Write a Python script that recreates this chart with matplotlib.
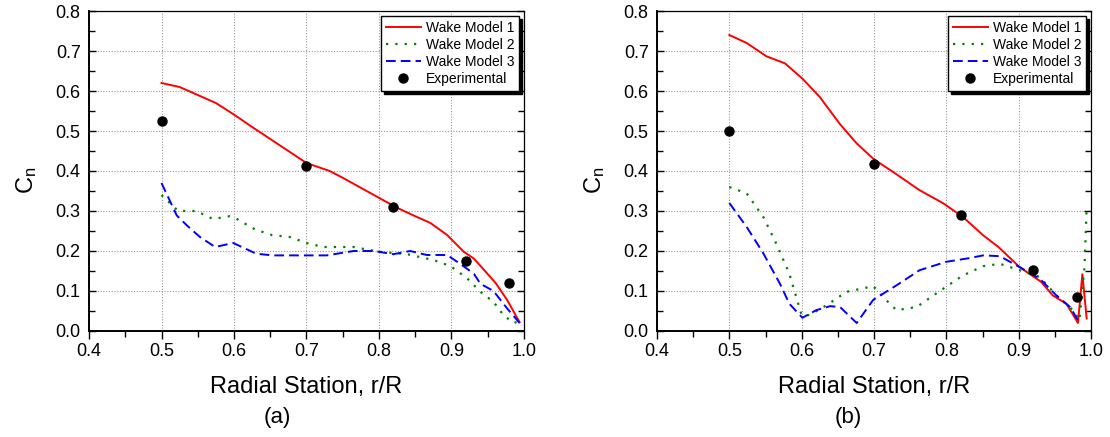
import matplotlib
matplotlib.use('Agg')
import matplotlib.pyplot as plt
from matplotlib.ticker import MultipleLocator

plt.rcParams['font.family'] = ['Liberation Sans', 'DejaVu Sans']
plt.rcParams['mathtext.default'] = 'regular'

# ---- panel (a) ----
a_x1 = [0.5, 0.525, 0.55, 0.575, 0.6, 0.625, 0.65, 0.675, 0.7, 0.732, 0.75, 0.775,
        0.8, 0.825, 0.85, 0.871, 0.894, 0.917, 0.931, 0.961, 0.977, 0.994]
a_y1 = [0.62, 0.61, 0.59, 0.57, 0.541, 0.51, 0.48, 0.45, 0.42, 0.40, 0.383, 0.358,
        0.333, 0.308, 0.287, 0.27, 0.24, 0.198, 0.181, 0.12, 0.077, 0.022]
a_x2 = [0.5, 0.523, 0.548, 0.571, 0.594, 0.603, 0.629, 0.652, 0.677, 0.7, 0.723, 0.765,
        0.8, 0.839, 0.876, 0.899, 0.922, 0.94, 0.958, 0.972, 0.986, 0.994]
a_y2 = [0.34, 0.30, 0.30, 0.28, 0.287, 0.281, 0.254, 0.24, 0.235, 0.22, 0.21, 0.21,
        0.198, 0.192, 0.177, 0.162, 0.131, 0.098, 0.073, 0.039, 0.02, 0.025]
a_x3 = [0.5, 0.521, 0.535, 0.553, 0.574, 0.599, 0.631, 0.654, 0.728, 0.765, 0.793,
        0.82, 0.843, 0.866, 0.894, 0.912, 0.931, 0.94, 0.958, 0.977, 0.994]
a_y3 = [0.37, 0.289, 0.264, 0.235, 0.21, 0.22, 0.193, 0.189, 0.189, 0.20, 0.20,
        0.192, 0.20, 0.19, 0.19, 0.168, 0.143, 0.118, 0.10, 0.056, 0.02]
a_xe = [0.5, 0.7, 0.82, 0.92, 0.98]
a_ye = [0.525, 0.412, 0.309, 0.175, 0.12]

# ---- panel (b) ----
b_x1 = [0.5, 0.524, 0.551, 0.577, 0.601, 0.625, 0.653, 0.676, 0.7, 0.726, 0.763,
        0.795, 0.823, 0.851, 0.872, 0.901, 0.931, 0.947, 0.966, 0.982, 0.988, 0.994]
b_y1 = [0.74, 0.72, 0.687, 0.669, 0.631, 0.585, 0.517, 0.469, 0.429, 0.398, 0.352,
        0.32, 0.285, 0.239, 0.21, 0.16, 0.123, 0.089, 0.068, 0.02, 0.142, 0.031]
b_x2 = [0.5, 0.524, 0.547, 0.565, 0.583, 0.6, 0.611, 0.634, 0.662, 0.699, 0.717,
        0.731, 0.759, 0.791, 0.823, 0.851, 0.874, 0.901, 0.929, 0.952, 0.975, 0.984,
        0.991, 0.994]
b_y2 = [0.36, 0.344, 0.285, 0.218, 0.143, 0.039, 0.04, 0.064, 0.098, 0.112, 0.077,
        0.052, 0.06, 0.10, 0.139, 0.162, 0.168, 0.152, 0.135, 0.089, 0.052, 0.027,
        0.16, 0.31]
b_x3 = [0.5, 0.524, 0.547, 0.57, 0.583, 0.601, 0.62, 0.639, 0.653, 0.676, 0.699,
        0.731, 0.763, 0.8, 0.828, 0.851, 0.874, 0.901, 0.929, 0.952, 0.971, 0.982]
b_y3 = [0.32, 0.26, 0.194, 0.118, 0.068, 0.033, 0.052, 0.062, 0.06, 0.02, 0.078,
        0.114, 0.152, 0.173, 0.181, 0.189, 0.187, 0.16, 0.131, 0.089, 0.06, 0.027]
b_xe = [0.5, 0.7, 0.82, 0.92, 0.98]
b_ye = [0.50, 0.417, 0.291, 0.153, 0.085]

labels = ['Wake Model 1', 'Wake Model 2', 'Wake Model 3', 'Experimental']


def draw_panel(ax, x1, y1, x2, y2, x3, y3, xe, ye):
    ax.plot(x1, y1, color='red', lw=1.4, label=labels[0])
    ax.plot(x2, y2, color='green', lw=1.6, ls=(0, (1, 3.2)), label=labels[1])
    ax.plot(x3, y3, color='blue', lw=1.4, ls=(0, (5, 2.6)), label=labels[2])
    ax.plot(xe, ye, 'o', color='black', ms=6.5, ls='none', label=labels[3])

    ax.set_xlim(0.4, 1.0)
    ax.set_ylim(0.0, 0.8)
    ax.xaxis.set_major_locator(MultipleLocator(0.1))
    ax.xaxis.set_minor_locator(MultipleLocator(0.05))
    ax.yaxis.set_major_locator(MultipleLocator(0.1))
    ax.yaxis.set_minor_locator(MultipleLocator(0.05))
    ax.xaxis.set_major_formatter(lambda v, p: f'{v:.1f}')
    ax.yaxis.set_major_formatter(lambda v, p: f'{v:.1f}')
    ax.grid(True, which='major', color='#999999', ls=(0, (1, 1.5)), lw=0.8)

    ax.tick_params(axis='x', which='both', direction='out', labelsize=13, pad=3)
    ax.tick_params(axis='x', which='major', length=6, width=1)
    ax.tick_params(axis='x', which='minor', length=4, width=1)
    ax.tick_params(axis='y', which='both', direction='in', labelsize=13, pad=6)
    ax.tick_params(axis='y', which='major', length=5, width=1)
    ax.tick_params(axis='y', which='minor', length=4, width=1)
    ax.tick_params(axis='y', which='both', right=True)
    for side in ['left', 'bottom']:
        ax.spines[side].set_linewidth(1.4)
    for side in ['top', 'right']:
        ax.spines[side].set_linewidth(0.9)

    ax.set_xlabel('Radial Station, r/R', fontsize=17, labelpad=11)
    ax.set_ylabel('$C_n$', fontsize=17)
    ax.yaxis.set_label_coords(-0.115, 0.47)

    leg = ax.legend(loc='upper right', fontsize=10, frameon=True, fancybox=False,
                    edgecolor='black', framealpha=1, labelspacing=0.22,
                    handlelength=2.5, handletextpad=0.35, borderpad=0.35,
                    borderaxespad=0.35,
                    shadow={'color': 'black', 'alpha': 1})
    leg.get_frame().set_linewidth(1.0)


fig = plt.figure(figsize=(11.1, 4.37), dpi=100)
ax_a = fig.add_axes([0.0802, 0.2426, 0.3918, 0.7322])
ax_b = fig.add_axes([0.5919, 0.2426, 0.3910, 0.7322])

draw_panel(ax_a, a_x1, a_y1, a_x2, a_y2, a_x3, a_y3, a_xe, a_ye)
draw_panel(ax_b, b_x1, b_y1, b_x2, b_y2, b_x3, b_y3, b_xe, b_ye)

fig.text(0.250, 0.045, '(a)', ha='center', va='center', fontsize=16)
fig.text(0.764, 0.045, '(b)', ha='center', va='center', fontsize=16)

fig.savefig('out.png', dpi=100)
